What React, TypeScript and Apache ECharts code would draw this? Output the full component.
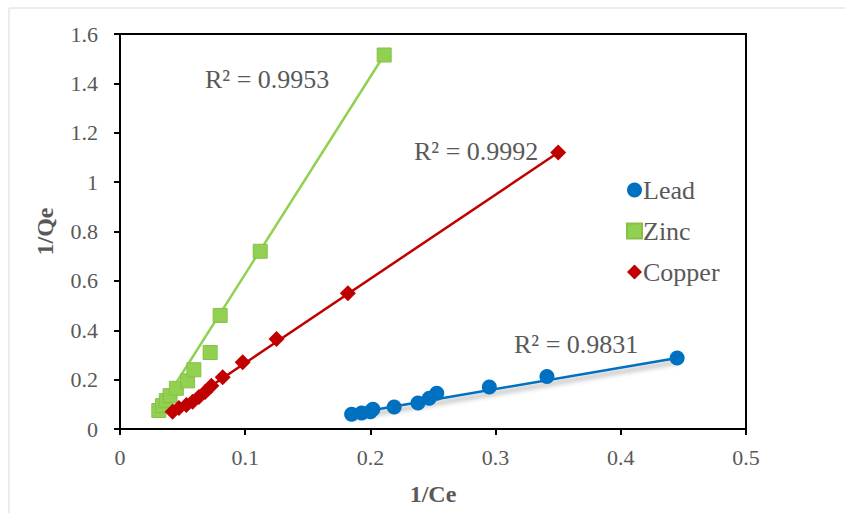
import React, { useEffect, useRef } from "react";
import * as echarts from "echarts";

const leadX = [0.185, 0.193, 0.2, 0.202, 0.219, 0.238, 0.247, 0.253, 0.295, 0.341, 0.445];
const leadY = [0.06, 0.065, 0.07, 0.08, 0.089, 0.105, 0.125, 0.145, 0.17, 0.213, 0.288];

const zincX = [0.031, 0.034, 0.037, 0.04, 0.045, 0.054, 0.059, 0.072, 0.08, 0.112, 0.211];
const zincY = [0.075, 0.095, 0.115, 0.135, 0.165, 0.195, 0.24, 0.31, 0.46, 0.72, 1.515];

const copperX = [0.042, 0.047, 0.053, 0.058, 0.063, 0.068, 0.073, 0.082, 0.098, 0.125, 0.182, 0.35];
const copperY = [0.07, 0.085, 0.097, 0.11, 0.13, 0.15, 0.175, 0.21, 0.27, 0.365, 0.55, 1.12];

// trendline endpoints
const leadTrendX = [0.185, 0.445];
const leadTrendY = [0.062, 0.288];
const zincTrendX = [0.031, 0.211];
const zincTrendY = [0.076, 1.515];
const copperTrendX = [0.042, 0.35];
const copperTrendY = [0.07, 1.12];

const seriesNames = ["Lead", "Zinc", "Copper"];
const r2Labels = ["R² = 0.9831", "R² = 0.9953", "R² = 0.9992"];

const xTicks = { min: 0, max: 0.5, interval: 0.1 };
const yTicks = { min: 0, max: 1.6, interval: 0.2 };

const pairs = (xs: number[], ys: number[]) => xs.map((x, i) => [x, ys[i]]);

const FONT = "'Liberation Serif', 'Times New Roman', serif";
const GRAY = "#595959";
const BLUE = "#0070C0";
const GREEN = "#92D050";
const RED = "#C00000";

export default function App() {
  const ref = useRef<HTMLDivElement>(null);
  useEffect(() => {
    if (!ref.current) return;
    const chart = echarts.init(ref.current, null, { renderer: "svg" });
    chart.setOption({
      animation: false,
      backgroundColor: "#fff",
      grid: {
        left: 120,
        top: 34,
        right: 99,
        bottom: 84,
        show: true,
        borderColor: "#000",
        borderWidth: 2,
        backgroundColor: "transparent",
      },
      xAxis: {
        type: "value",
        ...xTicks,
        name: "1/Ce",
        nameLocation: "middle",
        nameGap: 53,
        nameTextStyle: { fontFamily: FONT, fontSize: 24, fontWeight: "bold", color: GRAY },
        axisLine: { show: true, lineStyle: { color: "#000", width: 2 } },
        axisTick: { show: true, length: 6, lineStyle: { color: "#000", width: 2 } },
        axisLabel: { fontFamily: FONT, fontSize: 22, color: GRAY, margin: 17 },
        splitLine: { show: false },
      },
      yAxis: {
        type: "value",
        ...yTicks,
        name: "1/Qe",
        nameLocation: "middle",
        nameGap: 63,
        nameRotate: 90,
        nameTextStyle: { fontFamily: FONT, fontSize: 24, fontWeight: "bold", color: GRAY },
        axisLine: { show: true, lineStyle: { color: "#000", width: 2 } },
        axisTick: { show: true, length: 6, lineStyle: { color: "#000", width: 2 } },
        axisLabel: { fontFamily: FONT, fontSize: 22, color: GRAY, margin: 22 },
        splitLine: { show: false },
      },
      legend: {
        data: seriesNames,
        orient: "vertical",
        left: 621,
        top: 172,
        itemWidth: 15,
        itemHeight: 15,
        itemGap: 15,
        textStyle: { fontFamily: FONT, fontSize: 26, color: GRAY, lineHeight: 26, padding: [0, 0, 0, -4] },
      },
      graphic: [
        {
          type: "rect",
          z: -10,
          shape: { x: 9, y: 8, width: 900, height: 600 },
          style: { fill: "none", stroke: "#d9d9d9", lineWidth: 1 },
        },
        {
          type: "text",
          left: 514,
          top: 331,
          style: { text: r2Labels[0], font: `26px ${FONT}`, fill: GRAY },
        },
        {
          type: "text",
          left: 205,
          top: 66,
          style: { text: r2Labels[1], font: `26px ${FONT}`, fill: GRAY },
        },
        {
          type: "text",
          left: 414,
          top: 138,
          style: { text: r2Labels[2], font: `26px ${FONT}`, fill: GRAY },
        },
      ],
      series: [
        {
          name: "Lead trend",
          type: "line",
          data: pairs(leadTrendX, leadTrendY),
          symbol: "none",
          lineStyle: {
            color: BLUE,
            width: 2.5,
            shadowColor: "rgba(0,0,0,0.4)",
            shadowBlur: 5,
            shadowOffsetY: 4,
          },
          z: 2,
        },
        {
          name: "Zinc trend",
          type: "line",
          data: pairs(zincTrendX, zincTrendY),
          symbol: "none",
          lineStyle: { color: GREEN, width: 2.5 },
          z: 2,
        },
        {
          name: "Copper trend",
          type: "line",
          data: pairs(copperTrendX, copperTrendY),
          symbol: "none",
          lineStyle: { color: RED, width: 2.5 },
          z: 2,
        },
        {
          name: "Lead",
          type: "scatter",
          data: pairs(leadX, leadY),
          symbol: "circle",
          symbolSize: 15,
          itemStyle: { color: BLUE, opacity: 1 },
          z: 3,
        },
        {
          name: "Zinc",
          type: "scatter",
          data: pairs(zincX, zincY),
          symbol: "rect",
          symbolSize: 14,
          itemStyle: { color: GREEN, borderColor: "#86C04A", borderWidth: 1, opacity: 1 },
          z: 3,
        },
        {
          name: "Copper",
          type: "scatter",
          data: pairs(copperX, copperY),
          symbol: "diamond",
          symbolSize: 16,
          itemStyle: { color: RED, opacity: 1 },
          z: 3,
        },
      ],
    });
    return () => chart.dispose();
  }, []);
  return (
    <div
      ref={ref}
      style={{ position: "fixed", left: 0, top: 0, width: 845, height: 513, background: "#fff" }}
    />
  );
}
